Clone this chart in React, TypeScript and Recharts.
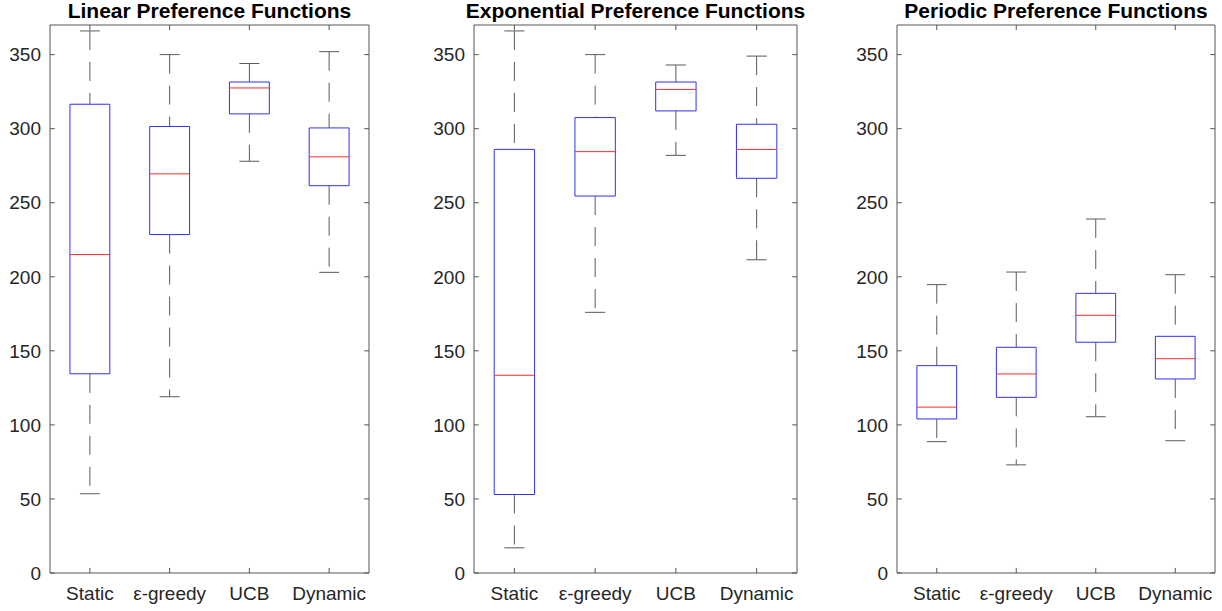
import React from 'react'
import {
  ComposedChart, Line, XAxis, YAxis, ReferenceArea, ReferenceLine,
} from 'recharts'

const categories = ['Static', 'ε-greedy', 'UCB', 'Dynamic']
const yTicks = [0, 50, 100, 150, 200, 250, 300, 350]
const xTicks = [1, 2, 3, 4]
const xDomain = [0.5, 4.5]
const yDomain = [0, 370]

// five-number summaries, one array per statistic
const linearLow = [53.5, 119, 278, 203]
const linearQ1 = [134.5, 228.5, 310, 261.5]
const linearMedian = [215, 269.5, 327.5, 281]
const linearQ3 = [316.5, 301.5, 331.5, 300.5]
const linearHigh = [366, 350, 344, 352]

const expLow = [17, 176, 282, 211.5]
const expQ1 = [53, 254.5, 312, 266.5]
const expMedian = [133.5, 284.5, 326.5, 286]
const expQ3 = [286, 307.5, 331.5, 303]
const expHigh = [366, 350, 343, 349]

const periodicLow = [88.7, 73, 105.5, 89.3]
const periodicQ1 = [104, 118.6, 155.8, 131]
const periodicMedian = [112, 134.4, 174, 144.7]
const periodicQ3 = [140, 152.4, 188.8, 159.8]
const periodicHigh = [194.7, 203.2, 239, 201.4]

const FONT = "'Liberation Sans', Arial, Helvetica, sans-serif"
const AXIS = '#555555'
const TEXT = '#262626'
const BOX = '#2f2fff'
const MEDIAN = '#ff2a2a'
const WHISKER = '#5a5a5a'
// inward tick length, in axis units (about 5px)
const TICK_X = 0.06
const TICK_Y = 3.4

interface BoxPanelProps {
  title: string
  low: number[]
  q1: number[]
  median: number[]
  q3: number[]
  high: number[]
  left: number
  width: number
  marginRight: number
}

function BoxPanel({ title, low, q1, median, q3, high, left, width, marginRight }: BoxPanelProps) {
  const plotLeft = left + 50
  const plotWidth = width - 50 - marginRight
  const rows = categories.map((name, i) => ({ x: i + 1, name, median: median[i] }))
  const [x0, x1] = xDomain
  const [y0, y1] = yDomain
  return (
    <>
      <div style={{
        position: 'absolute', left: plotLeft - 40, width: plotWidth + 80, top: 0,
        textAlign: 'center', fontFamily: FONT, fontWeight: 'bold', fontSize: 21,
        lineHeight: '21px', color: '#000',
      }}>
        {title}
      </div>
      <div style={{ position: 'absolute', left, top: 0 }}>
        <ComposedChart width={width} height={611} data={rows} margin={{ top: 25, right: marginRight, bottom: 0, left: 0 }}>
          <XAxis
            dataKey="x" type="number" domain={xDomain} ticks={xTicks} allowDataOverflow
            tickFormatter={(v: number) => categories[v - 1]} height={38}
            tick={{ fontSize: 19, fill: TEXT, fontFamily: FONT }}
            axisLine={{ stroke: AXIS }} tickLine={false} tickSize={0} tickMargin={14}
            interval={0}
          />
          <YAxis
            type="number" domain={yDomain} ticks={yTicks} allowDataOverflow width={50}
            tick={{ fontSize: 19, fill: TEXT, fontFamily: FONT }}
            axisLine={{ stroke: AXIS }} tickLine={false} tickSize={0} tickMargin={9}
            interval={0}
          />
          <Line dataKey="median" stroke="none" dot={false} activeDot={false} isAnimationActive={false} />

          {/* box frame: top and right edges */}
          <ReferenceLine segment={[{ x: x0, y: y1 }, { x: x1, y: y1 }]} stroke={AXIS} />
          <ReferenceLine segment={[{ x: x1, y: y0 }, { x: x1, y: y1 }]} stroke={AXIS} />

          {/* inward ticks on all four sides */}
          {yTicks.map(t => (
            <React.Fragment key={`y${t}`}>
              <ReferenceLine segment={[{ x: x0, y: t }, { x: x0 + TICK_X, y: t }]} stroke={AXIS} />
              <ReferenceLine segment={[{ x: x1 - TICK_X, y: t }, { x: x1, y: t }]} stroke={AXIS} />
            </React.Fragment>
          ))}
          {xTicks.map(t => (
            <React.Fragment key={`x${t}`}>
              <ReferenceLine segment={[{ x: t, y: y0 }, { x: t, y: y0 + TICK_Y }]} stroke={AXIS} />
              <ReferenceLine segment={[{ x: t, y: y1 - TICK_Y }, { x: t, y: y1 }]} stroke={AXIS} />
            </React.Fragment>
          ))}

          {categories.map((c, i) => {
            const x = i + 1
            return (
              <React.Fragment key={c}>
                <ReferenceLine
                  segment={[{ x, y: high[i] }, { x, y: q3[i] }]}
                  stroke={WHISKER} strokeDasharray="19 12"
                />
                <ReferenceLine
                  segment={[{ x, y: q1[i] }, { x, y: low[i] }]}
                  stroke={WHISKER} strokeDasharray="19 12"
                />
                <ReferenceLine
                  segment={[{ x: x - 0.125, y: high[i] }, { x: x + 0.125, y: high[i] }]}
                  stroke={WHISKER}
                />
                <ReferenceLine
                  segment={[{ x: x - 0.125, y: low[i] }, { x: x + 0.125, y: low[i] }]}
                  stroke={WHISKER}
                />
                <ReferenceArea
                  x1={x - 0.25} x2={x + 0.25} y1={q1[i]} y2={q3[i]}
                  fill="#ffffff" fillOpacity={1} stroke={BOX} strokeWidth={1}
                />
                <ReferenceLine
                  segment={[{ x: x - 0.25, y: median[i] }, { x: x + 0.25, y: median[i] }]}
                  stroke={MEDIAN}
                />
              </React.Fragment>
            )
          })}
        </ComposedChart>
      </div>
    </>
  )
}

export default function App() {
  return (
    <div style={{ position: 'absolute', left: 0, top: 0, width: 1222, height: 611, background: '#fff', overflow: 'hidden' }}>
      <BoxPanel title="Linear Preference Functions" low={linearLow} q1={linearQ1} median={linearMedian} q3={linearQ3} high={linearHigh} left={0} width={380} marginRight={11} />
      <BoxPanel title="Exponential Preference Functions" low={expLow} q1={expQ1} median={expMedian} q3={expQ3} high={expHigh} left={424} width={384} marginRight={11} />
      <BoxPanel title="Periodic Preference Functions" low={periodicLow} q1={periodicQ1} median={periodicMedian} q3={periodicQ3} high={periodicHigh} left={847} width={375} marginRight={7} />
    </div>
  )
}
